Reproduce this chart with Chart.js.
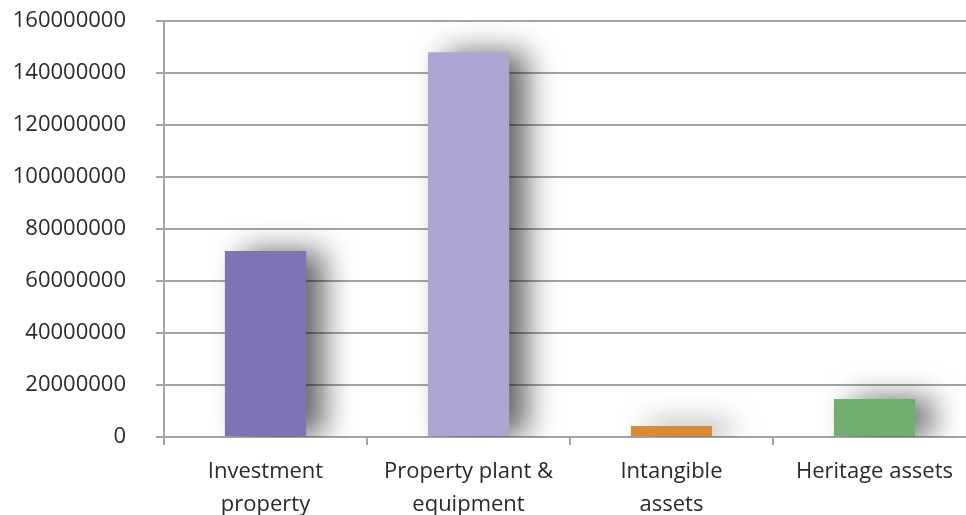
<!DOCTYPE html>
<html><head><meta charset="utf-8">
<script src="https://cdn.jsdelivr.net/npm/chart.js@4/dist/chart.umd.min.js"></script>
<style>html,body{margin:0;padding:0;overflow:hidden;background:#fff}#wrap{width:976px;height:515px;position:relative}</style>
</head><body><div id="wrap"><canvas id="c"></canvas></div>
<script>
const categories = [["Investment", "property"], ["Property plant &", "equipment"], ["Intangible", "assets"], "Heritage assets"];
const values = [71500000, 148000000, 4200000, 14600000];
const barColors = ["#8073b4", "#ada5d2", "#d98a38", "#72ae6f"];
const yTicks = { min: 0, max: 160000000, step: 20000000 };

const shadowPlugin = {
  id: 'barShadow',
  beforeDatasetsDraw(chart) {
    const ctx = chart.ctx;
    ctx.save();
    ctx.shadowColor = 'rgba(0,0,0,0.6)';
    ctx.shadowBlur = 30;
    ctx.shadowOffsetX = 18;
    ctx.shadowOffsetY = 0;
  },
  afterDatasetsDraw(chart) { chart.ctx.restore(); }
};

const gridColor = '#a3a3a3';
new Chart(document.getElementById('c'), {
  type: 'bar',
  data: { labels: categories, datasets: [{ data: values, backgroundColor: barColors, barPercentage: 0.4, categoryPercentage: 1.0 }] },
  options: {
    responsive: true, maintainAspectRatio: false, animation: false,
    layout: { padding: { top: 21, right: 0, left: 0, bottom: 0 } },
    plugins: { legend: { display: false }, tooltip: { enabled: false } },
    scales: {
      x: {
        grid: { offset: true, drawOnChartArea: false, color: gridColor, lineWidth: 2, tickLength: 8 },
        border: { color: gridColor, width: 2 },
        ticks: { color: '#2a2a2a', font: { family: 'Open Sans', size: 22, lineHeight: 1.5 }, maxRotation: 0, autoSkip: false, padding: 10 },
        afterFit(s) { s.height = 78; }
      },
      y: {
        min: yTicks.min, max: yTicks.max,
        grid: { color: gridColor, lineWidth: 2, tickLength: 8 },
        border: { color: gridColor, width: 2 },
        ticks: { stepSize: yTicks.step, color: '#2a2a2a', font: { family: 'Open Sans', size: 22 }, padding: 30, callback: v => String(v) },
        afterFit(s) { s.width = 164; s.paddingTop = 0; s.paddingBottom = 0; }
      }
    }
  },
  plugins: [shadowPlugin]
});
</script></body></html>
